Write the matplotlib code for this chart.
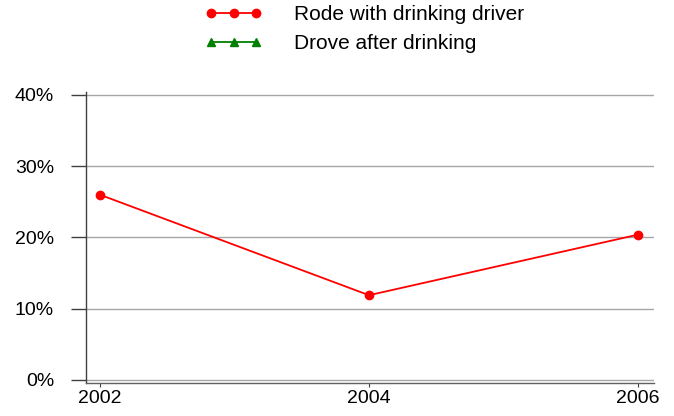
import numpy as np
import matplotlib
matplotlib.use("Agg")
import matplotlib.pyplot as plt
from matplotlib.ticker import FuncFormatter

plt.rcParams['font.family'] = ['Liberation Sans', 'DejaVu Sans']

years = [2002, 2004, 2006]
rode_with_drinking_driver = [26.0, 11.9, 20.4]
drove_after_drinking = [np.nan, np.nan, np.nan]
series_labels = ["Rode with drinking driver", "Drove after drinking"]
y_ticks = [0, 10, 20, 30, 40]

fig = plt.figure(figsize=(6.74, 4.16), dpi=100)
ax = fig.add_axes([86/674, 1-383/416, (654-86)/674, (383-92)/416])

l1, = ax.plot(years, rode_with_drinking_driver, color='#ff0000', marker='o',
              markersize=6, linewidth=1.3, label=series_labels[0], zorder=3)
l2, = ax.plot(years, drove_after_drinking, color='#008000', marker='^',
              markersize=6, linewidth=1.3, label=series_labels[1], zorder=3)

ax.set_xlim(2002 - 14/134.5, 2006 + 16/134.5)
ax.set_ylim(-3/7.125, 40 + 3/7.125)
ax.set_xticks(years)
ax.set_xticklabels([str(y) for y in years])
ax.set_yticks(y_ticks)
ax.yaxis.set_major_formatter(FuncFormatter(lambda v, p: f"{int(v)}%"))

ax.yaxis.grid(True, color='#a6a6a6', linewidth=1.0)
ax.set_axisbelow(True)
for s in ['top', 'right']:
    ax.spines[s].set_visible(False)
ax.spines['left'].set_color('#404040')
ax.spines['bottom'].set_color('#606060')
ax.spines['left'].set_linewidth(1.0)
ax.spines['bottom'].set_linewidth(1.0)

ax.tick_params(axis='y', length=11, width=1.0, color='#404040', labelsize=14, pad=12)
ax.tick_params(axis='x', length=3, width=0.8, color='#404040', labelsize=14, pad=2)
ax.set_facecolor('white')

fig.legend(handles=[l1, l2], loc='upper left', bbox_to_anchor=(205/674, 1-5/416),
           frameon=False, fontsize=15, numpoints=3, handlelength=2.75,
           handletextpad=1.5, labelspacing=0.5, borderpad=0, borderaxespad=0)

fig.savefig("out.png", dpi=100, facecolor='white')
